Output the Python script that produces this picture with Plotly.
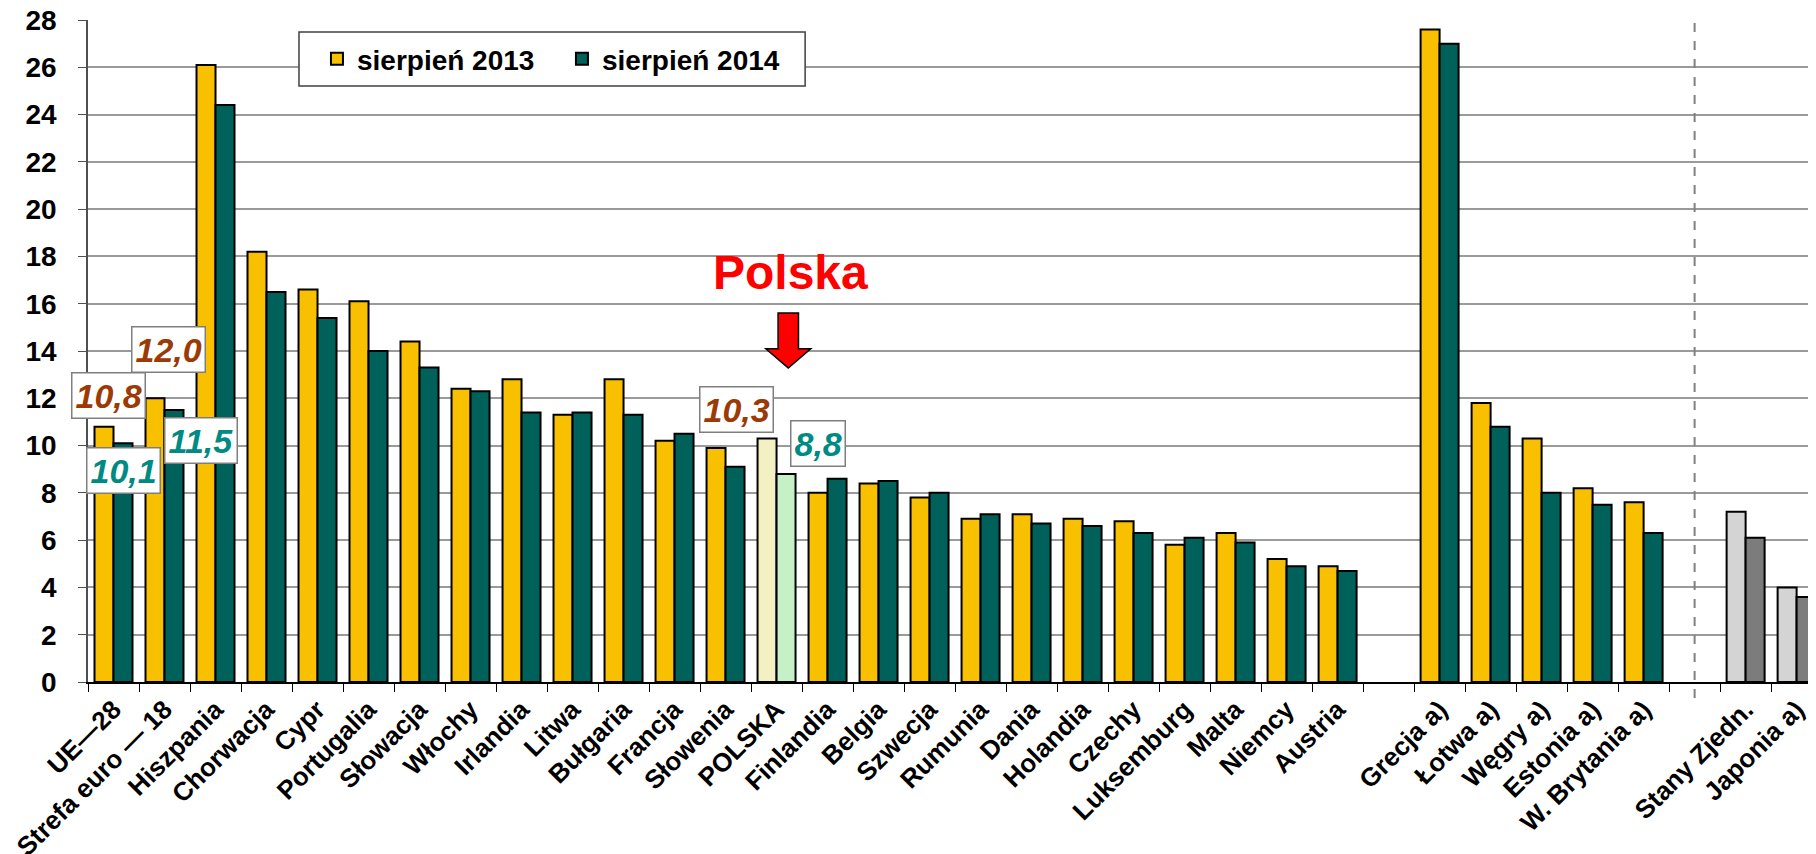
import plotly.graph_objects as go

categories = ["UE—28", "Strefa euro — 18", "Hiszpania", "Chorwacja", "Cypr", "Portugalia",
              "Słowacja", "Włochy", "Irlandia", "Litwa", "Bułgaria", "Francja", "Słowenia",
              "POLSKA", "Finlandia", "Belgia", "Szwecja", "Rumunia", "Dania", "Holandia",
              "Czechy", "Luksemburg", "Malta", "Niemcy", "Austria", " ",
              "Grecja a)", "Łotwa a)", "Węgry a)", "Estonia a)", "W. Brytania a)", "  ",
              "Stany Zjedn.", "Japonia a)"]

v2013 = [10.8, 12.0, 26.1, 18.2, 16.6, 16.1, 14.4, 12.4, 12.8, 11.3, 12.8, 10.2, 9.9,
         10.3, 8.0, 8.4, 7.8, 6.9, 7.1, 6.9, 6.8, 5.8, 6.3, 5.2, 4.9, None,
         27.6, 11.8, 10.3, 8.2, 7.6, None, 7.2, 4.0]
v2014 = [10.1, 11.5, 24.4, 16.5, 15.4, 14.0, 13.3, 12.3, 11.4, 11.4, 11.3, 10.5, 9.1,
         8.8, 8.6, 8.5, 8.0, 7.1, 6.7, 6.6, 6.3, 6.1, 5.9, 4.9, 4.7, None,
         27.0, 10.8, 8.0, 7.5, 6.3, None, 6.1, 3.6]

series_names = ["sierpień 2013", "sierpień 2014"]
y_ticks = list(range(0, 29, 2))

# label boxes: (category, series index, xshift, yshift)
labelled = [("UE—28", 0, -5, 31), ("UE—28", 1, 10, -27),
            ("Strefa euro — 18", 0, 4, 49), ("Strefa euro — 18", 1, 36, -30),
            ("POLSKA", 0, -40, 29), ("POLSKA", 1, 41, 30)]

FONT = "Liberation Sans, Arial, sans-serif"
GOLD, TEAL = "#F9C000", "#00605A"
special = {"POLSKA": ("#F3F0C4", "#C6F0C6"),
           "Stany Zjedn.": ("#D4D4D4", "#7C7C7C"),
           "Japonia a)": ("#D4D4D4", "#7C7C7C")}
c2013 = [special.get(c, (GOLD, TEAL))[0] for c in categories]
c2014 = [special.get(c, (GOLD, TEAL))[1] for c in categories]

fig = go.Figure()
fig.add_trace(go.Bar(x=categories, y=v2013, name=series_names[0],
                     marker=dict(color=c2013, line=dict(color="#000000", width=2))))
fig.add_trace(go.Bar(x=categories, y=v2014, name=series_names[1],
                     marker=dict(color=c2014, line=dict(color="#000000", width=2))))

lab_colors = ["#9C3A06", "#008A84"]
for cat, si, xs, ys in labelled:
    val = (v2013 if si == 0 else v2014)[categories.index(cat)]
    fig.add_annotation(x=cat, y=val, xref="x", yref="y", showarrow=False,
                       text=f"<b><i>{val:.1f}</i></b>".replace(".", ","),
                       font=dict(family=FONT, size=34, color=lab_colors[si]),
                       bgcolor="white", bordercolor="#7F7F7F", borderwidth=1.5,
                       borderpad=3, xshift=xs, yshift=ys)

# "Polska" title with arrow
pi = categories.index("POLSKA")
fig.add_annotation(x=pi + 0.28, y=17.3, xref="x", yref="y", showarrow=False,
                   text="<b>Polska</b>", font=dict(family=FONT, size=48, color="#FF0000"))
ax = pi + 0.23
fig.add_shape(type="path", xref="x", yref="y",
              path=(f"M {ax-0.2} 15.61 L {ax+0.2} 15.61 L {ax+0.2} 14.09 L {ax+0.44} 14.09 "
                    f"L {ax} 13.28 L {ax-0.44} 14.09 L {ax-0.2} 14.09 Z"),
              fillcolor="#FF0000", line=dict(color="#000000", width=1.5))

# dashed separator
fig.add_shape(type="line", xref="x", yref="paper", x0=categories.index("  "),
              x1=categories.index("  "), y0=-0.024, y1=1.009,
              line=dict(color="#808080", width=2, dash="dash"))

# legend frame
fig.add_shape(type="rect", xref="paper", yref="paper", x0=0.1221, x1=0.415,
              y0=0.9003, y1=0.9819, layer="above",
              fillcolor="white", line=dict(color="#404040", width=1.5))

# page body has an 8px margin: compensate so the plot area sits at page x 88..1816, y 20..682
fig.update_layout(
    width=1808, height=846,
    margin=dict(l=80, r=0, t=12, b=172),
    paper_bgcolor="white", plot_bgcolor="white",
    barmode="group", bargap=0.255, bargroupgap=0,
    font=dict(family=FONT, color="#000000"),
    legend=dict(orientation="h", x=0.1325, y=0.941, xanchor="left", yanchor="middle",
                bgcolor="rgba(0,0,0,0)", borderwidth=0,
                font=dict(family=FONT, size=28, color="#000000", weight="bold"),
                entrywidth=200, entrywidthmode="pixels",
                itemsizing="constant"),
    showlegend=True,
)
fig.update_xaxes(type="category", range=[-0.5, 33.38], automargin=False,
                 tickangle=-45, tickfont=dict(family=FONT, size=26, color="#000000", weight="bold"),
                 ticks="outside", tickson="boundaries", ticklen=8, tickcolor="#000000",
                 showline=True, linecolor="#000000", linewidth=2, showgrid=False,
                 fixedrange=True)
fig.update_yaxes(range=[0, 28], tickvals=y_ticks, ticktext=[str(t) for t in y_ticks],
                 automargin=False, ticklabeloverflow="allow",
                 tickfont=dict(family=FONT, size=28, color="#000000", weight="bold"),
                 ticks="outside", ticklen=8, tickcolor="#505050",
                 showline=True, linecolor="#505050", linewidth=1.5,
                 showgrid=True, gridcolor="#9A9A9A", gridwidth=1.5,
                 zeroline=False, ticklabelstandoff=16)

fig.write_html("out.html")
